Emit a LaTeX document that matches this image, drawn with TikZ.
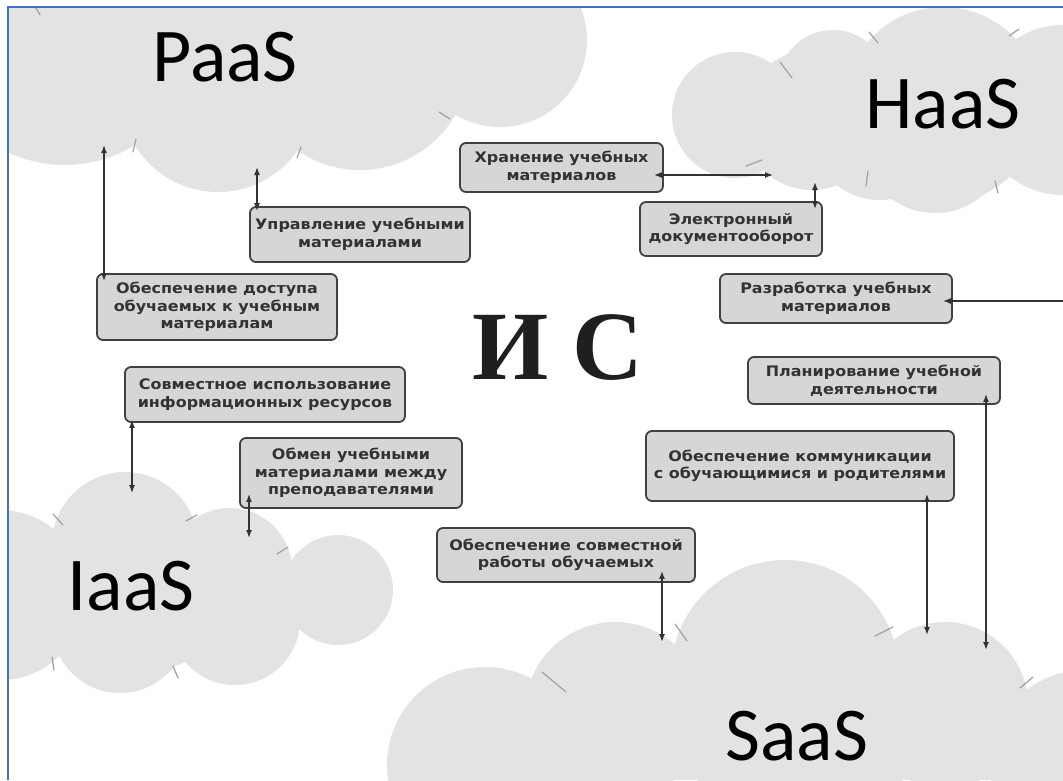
\documentclass[tikz,border=0pt]{standalone}
\usepackage{fontspec}
\usetikzlibrary{arrows.meta,calc}
\newfontfamily\cloudfont{Carlito}
\newfontfamily\boxfont{DejaVu Sans}[FakeStretch=1.1]
\newfontfamily\isfont{Liberation Serif}
\definecolor{cloudgray}{RGB}{227,227,229}
\definecolor{tickgray}{RGB}{160,160,160}
\definecolor{boxfill}{RGB}{214,214,214}
\definecolor{boxline}{RGB}{65,65,65}
\definecolor{boxtext}{RGB}{50,50,50}
\definecolor{arrowc}{RGB}{50,50,50}
\definecolor{framec}{RGB}{68,114,196}
\tikzset{
	cloudpart/.style={fill=cloudgray},
	cloudtick/.style={draw=tickgray,line width=1.2pt,line cap=round},
	cloudlabel/.style={font=\cloudfont\fontsize{76}{80}\selectfont,inner sep=0pt},
	task/.style={draw=boxline,fill=boxfill,line width=1.8pt,rounded corners=6pt,align=center,inner sep=0pt,text=boxtext,font=\boxfont\bfseries\fontsize{14.5}{17.5}\selectfont},
	link/.style={draw=arrowc,line width=1.5pt,{Latex[length=8pt,width=6pt]}-{Latex[length=8pt,width=6pt]}},
	feed/.style={draw=arrowc,line width=1.5pt,-{Latex[length=8pt,width=6pt]}},
}
\begin{document}
\begin{tikzpicture}
				\useasboundingbox (0,0) rectangle (1063pt,-780pt);
				\fill[white] (0,0) rectangle (1063pt,-780pt);
				\begin{scope}
				\clip (8pt,-7pt) rectangle (1063pt,-780pt);
				%paas cloud
				\fill[cloudpart] (65pt,-33pt) circle (132pt);
				\fill[cloudpart] (218pt,-95pt) circle (97pt);
				\fill[cloudpart] (360pt,-60pt) circle (110pt);
				\fill[cloudpart] (500pt,-40pt) circle (87pt);
				\draw[cloudtick] (36pt,-8pt) -- (40pt,-15pt);
				\draw[cloudtick] (136pt,-139pt) -- (133pt,-152pt);
				\draw[cloudtick] (301pt,-147pt) -- (297pt,-158pt);
				\draw[cloudtick] (439pt,-112pt) -- (450pt,-119pt);
				%haas cloud
				\fill[cloudpart] (735pt,-115pt) circle (63pt);
				\fill[cloudpart] (833pt,-85pt) circle (55pt);
				\fill[cloudpart] (943pt,-105pt) circle (98pt);
				\fill[cloudpart] (1063pt,-110pt) circle (85pt);
				\fill[cloudpart] (812pt,-120pt) circle (70pt);
				\fill[cloudpart] (935pt,-140pt) circle (73pt);
				\fill[cloudpart] (880pt,-130pt) circle (70pt);
				\draw[cloudtick] (780pt,-62pt) -- (792pt,-78pt);
				\draw[cloudtick] (869pt,-32pt) -- (878pt,-43pt);
				\draw[cloudtick] (1009pt,-36pt) -- (1019pt,-29pt);
				\draw[cloudtick] (746pt,-166pt) -- (762pt,-160pt);
				\draw[cloudtick] (868pt,-171pt) -- (866pt,-186pt);
				\draw[cloudtick] (995pt,-181pt) -- (998pt,-193pt);
				%iaas cloud
				\fill[cloudpart] (0pt,-595pt) circle (85pt);
				\fill[cloudpart] (125pt,-545pt) circle (73pt);
				\fill[cloudpart] (230pt,-570pt) circle (62pt);
				\fill[cloudpart] (338pt,-590pt) circle (55pt);
				\fill[cloudpart] (120pt,-625pt) circle (68pt);
				\fill[cloudpart] (235pt,-620pt) circle (65pt);
				\fill[cloudpart] (150pt,-590pt) circle (80pt);
				\draw[cloudtick] (53pt,-514pt) -- (63pt,-525pt);
				\draw[cloudtick] (186pt,-521pt) -- (197pt,-515pt);
				\draw[cloudtick] (277pt,-554pt) -- (288pt,-547pt);
				\draw[cloudtick] (52pt,-657pt) -- (54pt,-670pt);
				\draw[cloudtick] (173pt,-666pt) -- (178pt,-678pt);
				%saas cloud
				\fill[cloudpart] (485pt,-765pt) circle (98pt);
				\fill[cloudpart] (615pt,-712pt) circle (90pt);
				\fill[cloudpart] (785pt,-674pt) circle (114pt);
				\fill[cloudpart] (945pt,-705pt) circle (83pt);
				\fill[cloudpart] (1085pt,-765pt) circle (95pt);
				\fill[cloudpart] (800pt,-740pt) circle (110pt);
				\fill[cloudpart] (480pt,-720pt) rectangle (1063pt,-780pt);
				\draw[cloudtick] (542pt,-672pt) -- (566pt,-692pt);
				\draw[cloudtick] (675pt,-624pt) -- (687pt,-641pt);
				\draw[cloudtick] (875pt,-636pt) -- (893pt,-627pt);
				\draw[cloudtick] (1020pt,-688pt) -- (1033pt,-677pt);
				\end{scope}
				%frame
				\draw[framec,line width=2pt] (8pt,-780pt) -- (8pt,-7pt) -- (1063pt,-7pt);
				%cloud labels
				\node[cloudlabel] (paas) at (225pt,-57pt) {PaaS};
				\node[cloudlabel] (haas) at (943pt,-104pt) {HaaS};
				\node[cloudlabel] (iaas) at (131pt,-586pt) {IaaS};
				\node[cloudlabel] (saas) at (797pt,-736pt) {SaaS};
				%center
				\node[font=\isfont\bfseries\fontsize{98}{100}\selectfont,text=black!88,inner sep=0pt] (is) at (558pt,-348pt) {И С};
				%boxes
				\node[task,minimum width=220pt,minimum height=55pt] (upravl) at (360pt,-234.5pt) {Управление учебными\\материалами};
				\node[task,minimum width=240pt,minimum height=66pt] (dostup) at (217pt,-307pt) {Обеспечение доступа\\обучаемых к учебным\\материалам};
				\node[task,minimum width=203pt,minimum height=49pt] (hranen) at (561.5pt,-167.5pt) {Хранение учебных\\материалов};
				\node[task,minimum width=182pt,minimum height=54pt] (edo) at (731pt,-229pt) {Электронный\\документооборот};
				\node[task,minimum width=232pt,minimum height=49pt] (razrab) at (836pt,-298.5pt) {Разработка учебных\\материалов};
				\node[task,minimum width=252pt,minimum height=47pt] (plan) at (874pt,-380.5pt) {Планирование учебной\\деятельности};
				\node[task,minimum width=308pt,minimum height=70pt] (komm) at (800pt,-466pt) {Обеспечение коммуникации\\с обучающимися и родителями};
				\node[task,minimum width=258pt,minimum height=54pt] (sovmrab) at (566pt,-555pt) {Обеспечение совместной\\работы обучаемых};
				\node[task,minimum width=280pt,minimum height=55pt] (sovmisp) at (265pt,-394.5pt) {Совместное использование\\информационных ресурсов};
				\node[task,minimum width=222pt,minimum height=70pt] (obmen) at (351pt,-473pt) {Обмен учебными\\материалами между\\преподавателями};
				%arrow ends in clouds
				\coordinate (paasa) at (104pt,-145pt);
				\coordinate (paasb) at (257pt,-167pt);
				\coordinate (haasa) at (773pt,-175pt);
				\coordinate (haasb) at (815pt,-182pt);
				\coordinate (rim) at (1063pt,-301pt);
				\coordinate (saasa) at (662pt,-642pt);
				\coordinate (saasb) at (927pt,-635pt);
				\coordinate (saasc) at (986pt,-650pt);
				\coordinate (iaasa) at (132pt,-493pt);
				\coordinate (iaasb) at (249pt,-538pt);
				%arrows
				\draw[link] (paasa) -- ($(paasa |- dostup.north)+(0,-8pt)$);
				\draw[link] (paasb) -- ($(paasb |- upravl.north)+(0,-5pt)$);
				\draw[link] ($(haasa -| hranen.east)+(-10pt,0)$) -- (haasa);
				\draw[link] (haasb) -- ($(haasb |- edo.north)+(0,-8pt)$);
				\draw[feed] (rim) -- ($(rim -| razrab.east)+(-10pt,0)$);
				\draw[link] ($(saasc |- plan.south)+(0,11pt)$) -- (saasc);
				\draw[link] ($(saasb |- komm.south)+(0,8pt)$) -- (saasb);
				\draw[link] ($(saasa |- sovmrab.south)+(0,12pt)$) -- (saasa);
				\draw[link] ($(iaasa |- sovmisp.south)+(0,3pt)$) -- (iaasa);
				\draw[link] ($(iaasb |- obmen.south)+(0,15pt)$) -- (iaasb);
\end{tikzpicture}
\end{document}
